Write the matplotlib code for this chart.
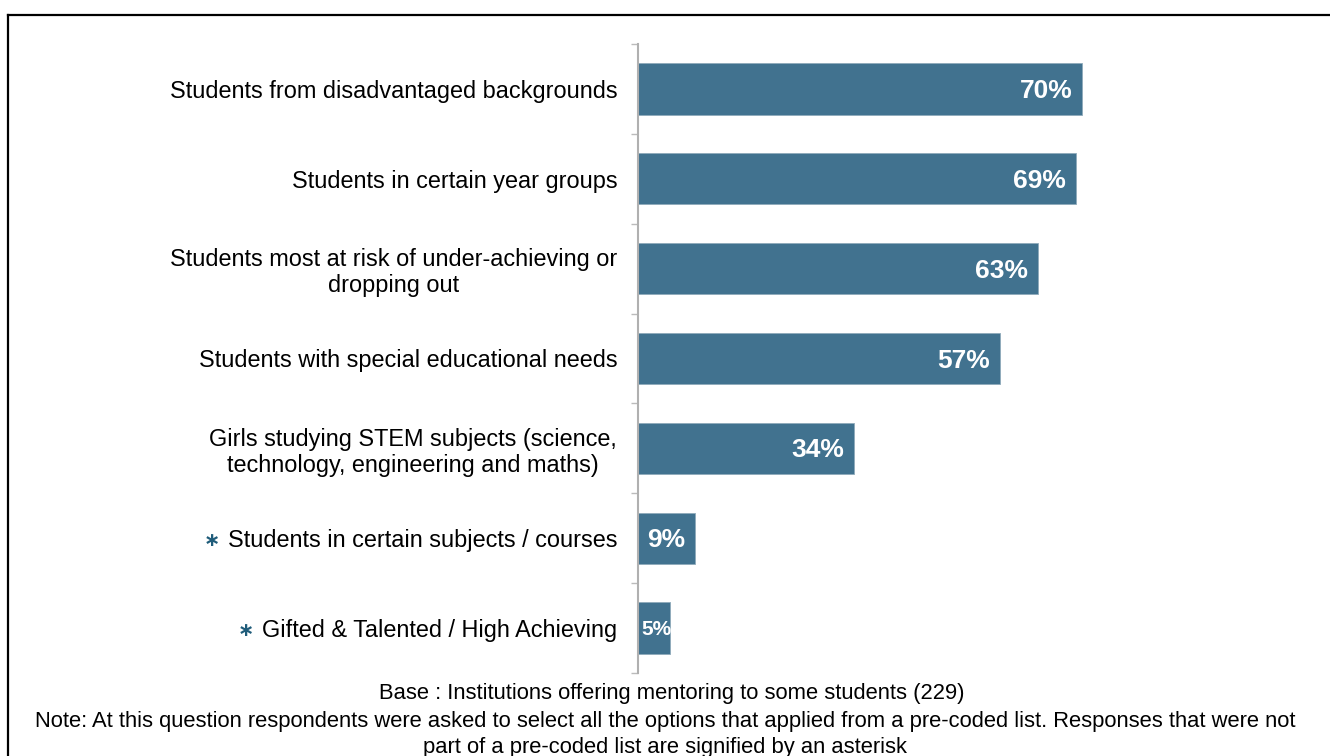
import matplotlib
matplotlib.use("Agg")
import matplotlib.pyplot as plt
from matplotlib.lines import Line2D
import numpy as np

categories = [
    "Students from disadvantaged backgrounds",
    "Students in certain year groups",
    "Students most at risk of under-achieving or\ndropping out",
    "Students with special educational needs",
    "Girls studying STEM subjects (science,\ntechnology, engineering and maths)",
    "Students in certain subjects / courses",
    "Gifted & Talented / High Achieving",
]
values = [70, 69, 63, 57, 34, 9, 5]
not_precoded = [False, False, False, False, False, True, True]

base_note = "Base : Institutions offering mentoring to some students (229)"
note_lines = [
    "Note: At this question respondents were asked to select all the options that applied from a pre-coded list. Responses that were not",
    "part of a pre-coded list are signified by an asterisk",
]

BAR = "#41728F"
STAR = "#1F5C7A"
plt.rcParams["font.family"] = ["Liberation Sans", "DejaVu Sans"]

W, H = 1330, 756
fig = plt.figure(figsize=(W / 100, H / 100), dpi=100)
ax = fig.add_axes([638 / W, 1 - 673 / H, 507.4 / W, (673 - 44) / H])

n = len(categories)
y = np.arange(n)
ax.barh(y, values, height=0.57, color=BAR, edgecolor="#8FAABB", linewidth=0.6)
ax.set_xlim(0, 80)
ax.set_ylim(n - 0.5, -0.5)

for yi, v in zip(y, values):
    if v >= 8:
        ax.annotate(f"{v}%", (v, yi), xytext=(-7, -1.5), textcoords="offset points",
                    ha="right", va="center", color="white", fontsize=19,
                    fontweight="bold")
    else:
        ax.annotate(f"{v}%", (0, yi), xytext=(2.5, -1), textcoords="offset points",
                    ha="left", va="center", color="white", fontsize=15,
                    fontweight="bold", clip_on=True)

ax.set_yticks(y)
ax.set_yticklabels(categories, fontsize=16.9, multialignment="center",
                   linespacing=1.15)
ax.set_yticks(np.arange(-0.5, n, 1), minor=True)
ax.tick_params(axis="y", which="major", length=0, pad=15)
ax.tick_params(axis="y", which="minor", length=5, width=1.0, color="#BBBBBB")
ax.tick_params(axis="x", bottom=False, labelbottom=False)
for s in ("top", "right", "bottom"):
    ax.spines[s].set_visible(False)
ax.spines["left"].set_color("#B0B0B0")
ax.spines["left"].set_linewidth(1.5)

fig.text(672 / W, 1 - 693 / H, base_note, ha="center", va="center", fontsize=15.8)
for i, line in enumerate(note_lines):
    fig.text(0.5, 1 - (721 + 26 * i) / H, line, ha="center", va="center",
             fontsize=15.8)

# outer frame (top and left edges)
fig.add_artist(Line2D([8 / W, 1], [1 - 15 / H, 1 - 15 / H], color="black",
                      linewidth=1.6, transform=fig.transFigure))
fig.add_artist(Line2D([8 / W, 8 / W], [0, 1 - 15 / H], color="black",
                      linewidth=1.6, transform=fig.transFigure))

# asterisks in front of the non pre-coded responses
fig.canvas.draw()
renderer = fig.canvas.get_renderer()
for lab, flag in zip(ax.get_yticklabels(), not_precoded):
    if not flag:
        continue
    bb = lab.get_window_extent(renderer)
    xs = (bb.x0 - 16) / W
    ys = (bb.y0 + bb.y1) / 2 / H
    fig.text(xs, ys, "\u2217", ha="center", va="center", fontsize=14,
             fontweight="bold", color=STAR, family=["DejaVu Sans"])

fig.savefig("out.png", dpi=100)
